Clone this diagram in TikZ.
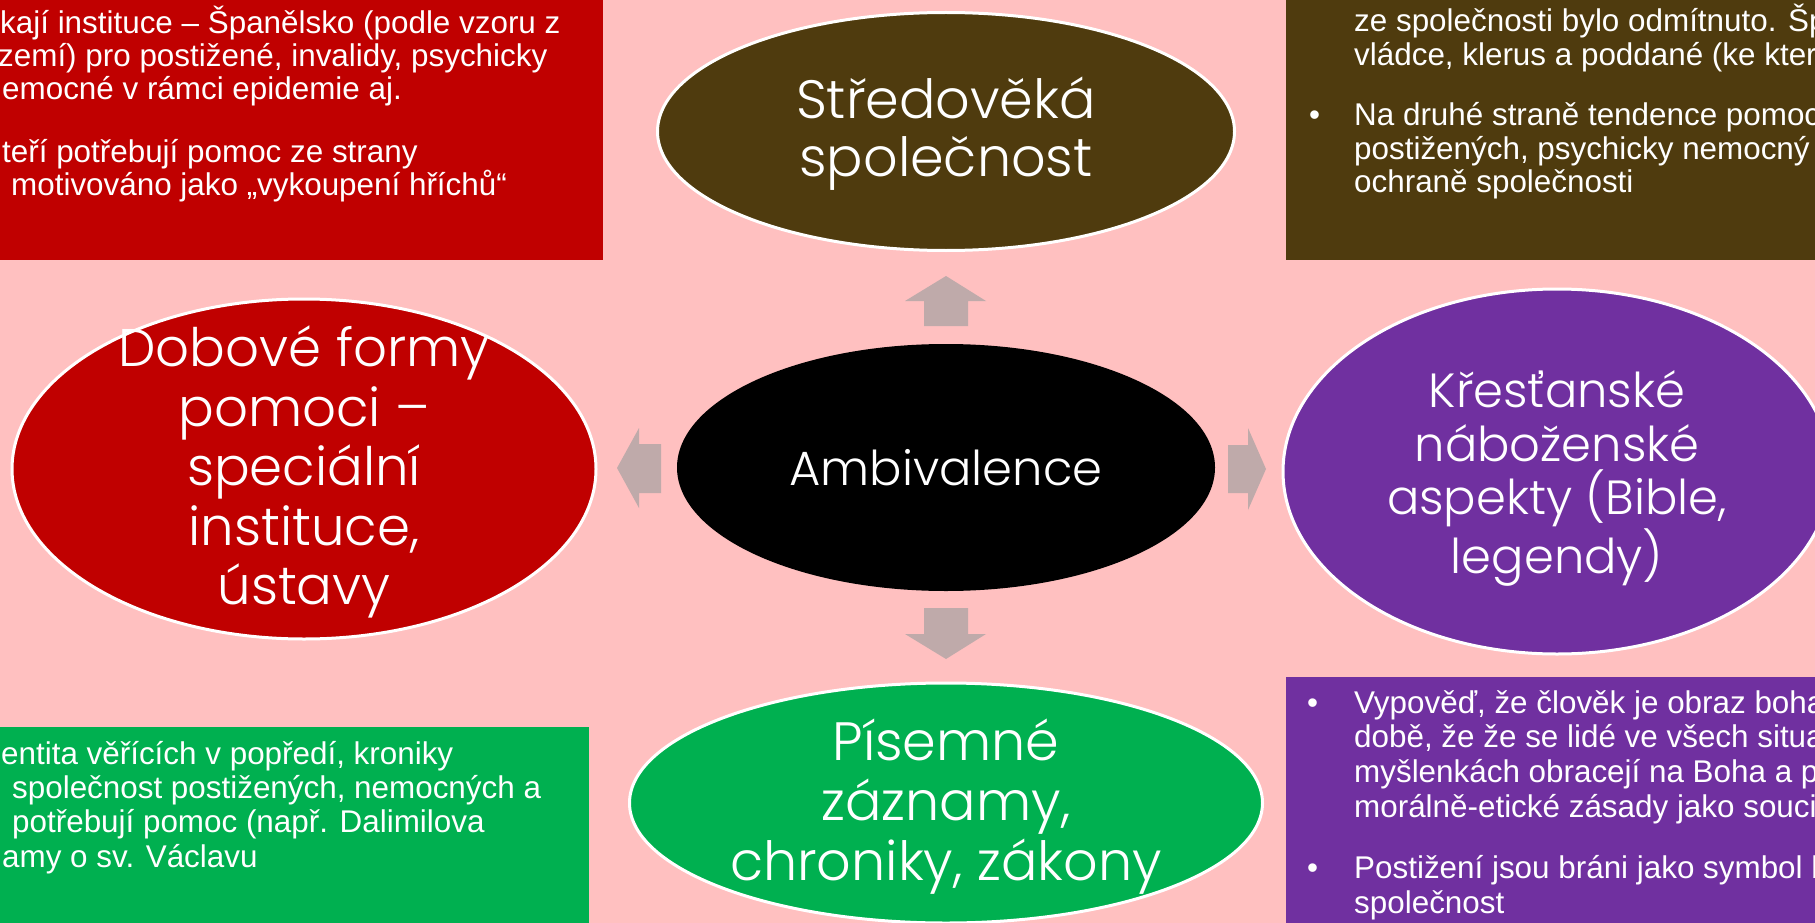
\documentclass[tikz,border=0pt]{standalone}
\usepackage{fontspec}
\setmainfont{Liberation Sans}
\newfontfamily\gothic{Poppins Light}
\usetikzlibrary{shapes.geometric}
\definecolor{bgpink}{HTML}{FFC0C0}
\definecolor{dkred}{HTML}{C00000}
\definecolor{dkbrown}{HTML}{4F3B0E}
\definecolor{mygreen}{HTML}{00B050}
\definecolor{mypurple}{HTML}{7030A0}
\definecolor{arrowgray}{HTML}{BFAAAA}
\begin{document}
\begin{tikzpicture}[x=1pt,y=-1pt,
  boxtxt/.style={anchor=base west, inner sep=0pt, text=white, font=\fontsize{31.4}{33}\selectfont},
  panel/.style={rectangle, anchor=north west, inner sep=0pt, draw=none},
  ell/.style={ellipse, inner sep=0pt, draw=white, line width=3pt},
  elltxt/.style={align=center, text=white, inner sep=0pt},
  blockarrow/.style={fill=arrowgray, draw=none}]
\useasboundingbox (0,0) rectangle (1815,923);
\clip (0,0) rectangle (1815,923);
\fill[bgpink] (0,0) rectangle (1815,923);

% panels
\node[panel, fill=dkred, minimum width=603pt, minimum height=260pt] (redbox) at (0,0) {};
\node[panel, fill=dkbrown, minimum width=529pt, minimum height=260pt] (brownbox) at (1286,0) {};
\node[panel, fill=mygreen, minimum width=589pt, minimum height=196pt] (greenbox) at (0,727) {};
\node[panel, fill=mypurple, minimum width=529pt, minimum height=246pt] (purplebox) at (1286,677) {};

% red panel text
\node[boxtxt] (r1) at (0,33.5) {kají instituce – Španělsko (podle vzoru z};
\node[boxtxt] (r2) at (-2,66.5) {zemí) pro postižené, invalidy, psychicky};
\node[boxtxt] (r3) at (2,99.5) {emocné v rámci epidemie aj.};
\node[boxtxt] (r4) at (2,162) {teří potřebují pomoc ze strany};
\node[boxtxt] (r5) at (11,195) {motivováno jako „vykoupení hříchů“};

% brown panel text
\node[boxtxt] (b1) at (1354,31.5) {ze společnosti bylo odmítnuto. Šp};
\node[boxtxt] (b2) at (1354,66) {vládce, klerus a poddané (ke kter};
\node[boxtxt] (bb) at (1309,126) {•};
\node[boxtxt] (b3) at (1354,126) {Na druhé straně tendence pomoc};
\node[boxtxt] (b4) at (1354,160) {postižených, psychicky nemocný};
\node[boxtxt] (b5) at (1354,193) {ochraně společnosti};

% green panel text
\node[boxtxt] (g1) at (1,764) {entita věřících v popředí, kroniky};
\node[boxtxt] (g2) at (12,798.5) {společnost postižených, nemocných a};
\node[boxtxt] (g3) at (12,832.5) {potřebují pomoc (např. Dalimilova};
\node[boxtxt] (g4) at (2,867) {amy o sv. Václavu};

% purple panel text
\node[boxtxt] (pb1) at (1307,713) {•};
\node[boxtxt] (p1) at (1354,713) {Vypověď, že člověk je obraz boha};
\node[boxtxt] (p2) at (1354,747.5) {době, že že se lidé ve všech situa};
\node[boxtxt] (p3) at (1354,782.5) {myšlenkách obracejí na Boha a p};
\node[boxtxt] (p4) at (1354,817.5) {morálně-etické zásady jako souci};
\node[boxtxt] (pb2) at (1307,878.5) {•};
\node[boxtxt] (p5) at (1354,878.5) {Postižení jsou bráni jako symbol b};
\node[boxtxt] (p6) at (1354,913.5) {společnost};

% ellipses
\node[ell, fill=dkbrown, minimum width=577pt, minimum height=238pt] (top) at (946,131.5) {};
\node[ell, fill=black, draw=none, minimum width=538pt, minimum height=247pt] (center) at (946,467.5) {};
\node[ell, fill=dkred, minimum width=584pt, minimum height=340pt] (left) at (304,469) {};
\node[ell, fill=mypurple, minimum width=548pt, minimum height=365pt] (right) at (1557,471.5) {};
\node[ell, fill=mygreen, minimum width=633pt, minimum height=240pt] (bottom) at (946,803) {};

\node[elltxt, font=\gothic\fontsize{54}{58}\selectfont, yshift=-2pt] (toptxt) at (top.center) {Středověká\\společnost};
\node[elltxt, font=\gothic\fontsize{48}{52}\selectfont] (centertxt) at (center.center) {Ambivalence};
\node[elltxt, font=\gothic\fontsize{53}{59.5}\selectfont, yshift=-3pt] (lefttxt) at (left.center) {Dobové formy\\pomoci –\\speciální\\instituce,\\ústavy};
\node[elltxt, font=\gothic\fontsize{48}{53.5}\selectfont, yshift=-7pt] (righttxt) at (right.center) {Křesťanské\\náboženské\\aspekty (Bible,\\legendy)};
\node[elltxt, font=\gothic\fontsize{54}{60}\selectfont, yshift=-4pt] (bottomtxt) at (bottom.center) {Písemné\\záznamy,\\chroniky, zákony};

% block arrows
\fill[blockarrow] (924,326) -- (924,301) -- (905,301) -- (946,276) -- (986,301) -- (968,301) -- (968,326) -- cycle;
\fill[blockarrow] (924,608) -- (924,634) -- (905,634) -- (946,659) -- (986,634) -- (968,634) -- (968,608) -- cycle;
\fill[blockarrow] (661,444) -- (639,444) -- (639,428) -- (617,468) -- (639,508) -- (639,493) -- (661,493) -- cycle;
\fill[blockarrow] (1228,445) -- (1248,445) -- (1248,428) -- (1266,469) -- (1248,510) -- (1248,493) -- (1228,493) -- cycle;
\end{tikzpicture}
\end{document}
